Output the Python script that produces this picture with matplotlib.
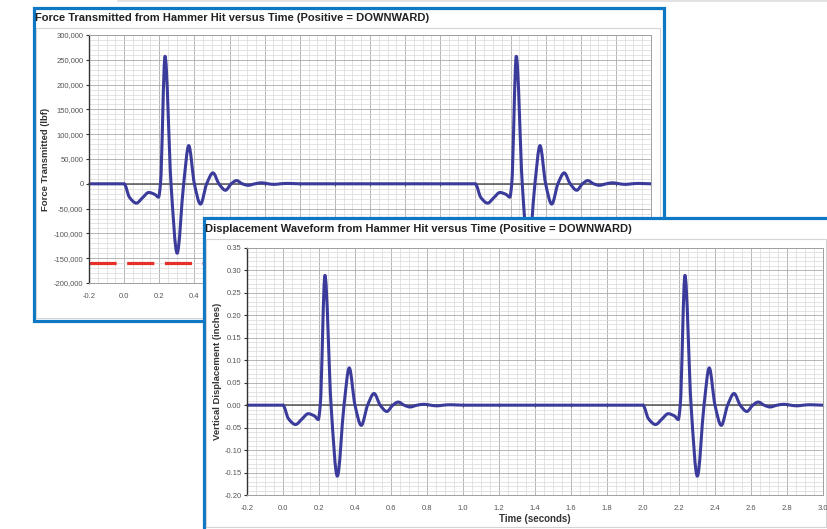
import matplotlib
matplotlib.use("Agg")
import matplotlib.pyplot as plt
from matplotlib.patches import Rectangle, PathPatch
from matplotlib.path import Path
from matplotlib.lines import Line2D
from matplotlib.ticker import MultipleLocator, FuncFormatter

plt.rcParams['font.family'] = ['Liberation Sans', 'DejaVu Sans']
plt.rcParams['axes.unicode_minus'] = False

# ---------------- data ----------------
hit_times = [0.0, 2.0]          # seconds at which the hammer hits

# one pulse, time relative to the hit (s)
pulse_t = [0.0, 0.03, 0.07, 0.105, 0.14, 0.175, 0.196, 0.207, 0.233, 0.267,
           0.302, 0.339, 0.368, 0.40, 0.435, 0.47, 0.506, 0.54, 0.577, 0.61,
           0.64, 0.673, 0.706, 0.745, 0.783, 0.82, 0.855, 0.89, 0.93, 1.0]

# displacement (inches)
disp_pulse = [0.0, -0.030, -0.043, -0.031, -0.019, -0.024, -0.032, 0.0, 0.289, 0.0,
              -0.158, 0.0, 0.083, 0.0, -0.045, 0.0, 0.026, 0.0, -0.014, 0.0,
              0.007, 0.0, -0.004, 0.0, 0.002, 0.0, -0.0015, 0.0, 0.001, 0.0]

# force (lbf)
force_pulse = [0, -27000, -39000, -28000, -17500, -21500, -27000, 0, 257000, 0,
               -140000, 0, 77000, 0, -41000, 0, 22000, 0, -13000, 0,
               6500, 0, -3000, 0, 2000, 0, -1200, 0, 800, 0]

force_limit = -160000          # red dashed reference line (lbf)

x_range = (-0.2, 3.0)
force_range = (-200000, 300000)
disp_range = (-0.20, 0.35)

title_force = "Force Transmitted from Hammer Hit versus Time (Positive = DOWNWARD)"
title_disp = "Displacement Waveform from Hammer Hit versus Time (Positive = DOWNWARD)"
ylabel_force = "Force Transmitted (lbf)"
ylabel_disp = "Vertical Displacement (inches)"
xlabel = "Time (seconds)"

# ---------------- styling ----------------
BLUE = '#0f78c4'
WAVE = '#3b3b9b'
W, H = 827, 529


def fx(px):
    return px / W


def fy(py):
    return 1 - py / H


def build_series(values):
    ts = [x_range[0]]
    vs = [0.0]
    for h in hit_times:
        for t, v in zip(pulse_t, values):
            ts.append(h + t)
            vs.append(v)
    return ts, vs


def smooth_path(xs, ys):
    """Smoothed line (shape-preserving cubic, like a 'smoothed line')."""
    n = len(xs)
    hs = [xs[i + 1] - xs[i] for i in range(n - 1)]
    ds = [(ys[i + 1] - ys[i]) / hs[i] for i in range(n - 1)]
    m = [0.0] * n
    for i in range(1, n - 1):
        d0, d1 = ds[i - 1], ds[i]
        if d0 * d1 <= 0:
            m[i] = 0.0
        else:
            w1 = 2 * hs[i] + hs[i - 1]
            w2 = hs[i] + 2 * hs[i - 1]
            m[i] = (w1 + w2) / (w1 / d0 + w2 / d1)
    verts = [(xs[0], ys[0])]
    codes = [Path.MOVETO]
    for i in range(n - 1):
        h = hs[i]
        verts += [(xs[i] + h / 3, ys[i] + m[i] * h / 3),
                  (xs[i + 1] - h / 3, ys[i + 1] - m[i + 1] * h / 3),
                  (xs[i + 1], ys[i + 1])]
        codes += [Path.CURVE4] * 3
    return Path(verts, codes)


def style_axes(ax, ylim, ymajor, yminor, yfmt, zero_frac, xmax_label=None):
    ax.set_xlim(*x_range)
    ax.set_ylim(*ylim)
    ax.set_facecolor('white')
    ax.xaxis.set_major_locator(MultipleLocator(0.2))
    ax.xaxis.set_minor_locator(MultipleLocator(0.05))
    ax.yaxis.set_major_locator(MultipleLocator(ymajor))
    ax.yaxis.set_minor_locator(MultipleLocator(yminor))

    def xfmt(v, p):
        if xmax_label is not None and v > xmax_label:
            return ""
        return f"{v:.1f}"
    ax.xaxis.set_major_formatter(FuncFormatter(xfmt))
    ax.yaxis.set_major_formatter(FuncFormatter(yfmt))
    ax.grid(which='major', color='#a9a9a9', lw=0.6)
    ax.grid(which='minor', color='#d9d9d9', lw=0.5)
    ax.tick_params(axis='x', which='both', length=0, pad=7,
                   labelsize=5.5, labelcolor='#555555')
    ax.tick_params(axis='y', which='major', direction='out', length=2.5,
                   width=0.8, color='#333333', pad=1.5,
                   labelsize=5.5, labelcolor='#555555')
    ax.tick_params(axis='y', which='minor', length=0)
    for s in ['top', 'right', 'bottom']:
        ax.spines[s].set_color('#a0a0a0')
        ax.spines[s].set_linewidth(0.7)
    ax.spines['left'].set_color('#333333')
    ax.spines['left'].set_linewidth(1.0)
    # axis line through zero with tick marks
    sec = ax.secondary_xaxis(zero_frac)
    sec.set_zorder(1.8)
    sec.xaxis.set_major_locator(MultipleLocator(0.2))
    sec.tick_params(axis='x', direction='inout', length=3.5, width=0.8,
                    color='#555555', labelbottom=False, labeltop=False)
    sec.spines['bottom'].set_color('#555555')
    sec.spines['bottom'].set_linewidth(1.1)
    sec.spines['top'].set_visible(False)


fig = plt.figure(figsize=(W / 100, H / 100), dpi=100)

# faint line at very top
fig.add_artist(Line2D([fx(118), 1.0], [fy(0.5), fy(0.5)], color='#dddddd',
                      lw=1.2, transform=fig.transFigure, zorder=0.1))

# ---------------- top panel (force) ----------------
fig.add_artist(Rectangle((fx(33.5), fy(321)), (663.5 - 33.5) / W, (321 - 7.5) / H,
                         transform=fig.transFigure, fc='white', ec=BLUE,
                         lw=2.3, zorder=0.2))
fig.add_artist(Rectangle((fx(36), fy(318)), (660 - 36) / W, (318 - 28) / H,
                         transform=fig.transFigure, fc='white', ec='#d4d4d4',
                         lw=0.8, zorder=0.3))
fig.text(fx(35), fy(18), title_force, fontsize=8, fontweight='bold',
         color='#222222', ha='left', va='center', zorder=0.4)

ax1 = fig.add_axes([fx(89), fy(283), (651 - 89) / W, (283 - 35) / H])
ax1.set_zorder(1)
# labels beyond 0.4 s are hidden behind the lower panel in the reference
style_axes(ax1, force_range, 50000, 10000, lambda v, p: f"{v:,.0f}",
           (0 - force_range[0]) / (force_range[1] - force_range[0]),
           xmax_label=0.45)
ax1.axhline(force_limit, color='#e8302a', lw=2.3, dashes=(8.5, 3.3),
            dash_capstyle='butt', zorder=1.9)
tf, vf = build_series(force_pulse)
ax1.add_patch(PathPatch(smooth_path(tf, vf), fill=False, ec=WAVE, lw=2.2,
                        capstyle='round', joinstyle='round', zorder=2.2))
ax1.set_ylabel(ylabel_force, fontsize=6.8, fontweight='bold', color='#333333')
ax1.yaxis.set_label_coords(-0.069, 0.5)

# ---------------- bottom panel (displacement) ----------------
fig.add_artist(Rectangle((fx(203.5), fy(545)), (845 - 203.5) / W, (545 - 218) / H,
                         transform=fig.transFigure, fc='white', ec=BLUE,
                         lw=2.3, zorder=2))
fig.add_artist(Rectangle((fx(206), fy(527)), (826 - 206) / W, (527 - 239) / H,
                         transform=fig.transFigure, fc='white', ec='#d4d4d4',
                         lw=0.8, zorder=2.1))
fig.text(fx(205), fy(229.5), title_disp, fontsize=8, fontweight='bold',
         color='#222222', ha='left', va='center', zorder=2.2)

ax2 = fig.add_axes([fx(247), fy(495), (823 - 247) / W, (495 - 248) / H])
ax2.set_zorder(3)
style_axes(ax2, disp_range, 0.05, 0.01, lambda v, p: f"{v:.2f}",
           (0 - disp_range[0]) / (disp_range[1] - disp_range[0]))
td, vd = build_series(disp_pulse)
ax2.add_patch(PathPatch(smooth_path(td, vd), fill=False, ec=WAVE, lw=2.2,
                        capstyle='round', joinstyle='round', zorder=2.2))
ax2.set_ylabel(ylabel_disp, fontsize=6.8, fontweight='bold', color='#333333')
ax2.yaxis.set_label_coords(-0.043, 0.5)
ax2.set_xlabel(xlabel, fontsize=7, fontweight='bold', color='#333333')
ax2.xaxis.set_label_coords(0.5, -0.077)

fig.savefig("out.png", dpi=100, facecolor='white')
